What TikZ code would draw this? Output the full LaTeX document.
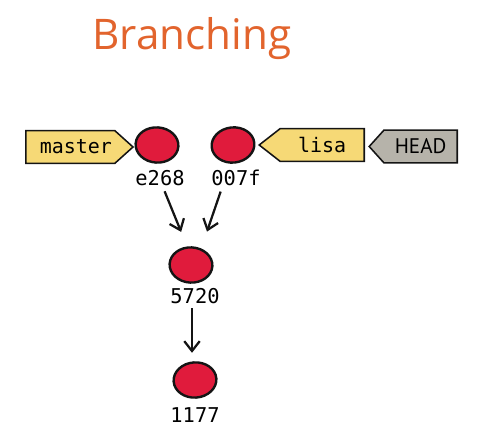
\documentclass[tikz,border=0pt]{standalone}
\usepackage{fontspec}
\setmainfont{Open Sans}
\newfontfamily\hashfont{DejaVu Sans Mono}
\newfontfamily\headfont{PT Sans}
\usetikzlibrary{arrows.meta,positioning,calc,shapes.geometric,shapes.symbols}
\definecolor{ink}{HTML}{141414}
\definecolor{title}{HTML}{E2642D}
\definecolor{cred}{HTML}{E01B3C}
\definecolor{tagyellow}{HTML}{F6D976}
\definecolor{taggray}{HTML}{B6B3AA}
\tikzset{
  commit/.style={ellipse, draw=ink, line width=1.7pt, fill=cred, minimum width=1.07cm, minimum height=0.88cm, inner sep=0pt},
  hash/.style={font=\hashfont\fontsize{14.5}{15}\selectfont, inner sep=1pt},
  tagbox/.style={signal, draw=ink, line width=1.1pt, fill=tagyellow, minimum height=0.82cm, inner sep=2pt, font=\hashfont\fontsize{14.2}{15}\selectfont},
  flow/.style={-{Straight Barb[length=7pt,width=11pt]}, line width=1.6pt, draw=ink},
}
\begin{document}
\begin{tikzpicture}[x=0.025cm, y=-0.025cm]
  \useasboundingbox (0,0) rectangle (480,446);
  % title
  \node[font=\fontsize{30}{31}\selectfont, text=title, anchor=base] (ttl) at (192,50) {Branching};
  % commits
  \node[commit, rotate=-4] (ce268) at (157,145) {};
  \node[commit, rotate=6] (c007f) at (233,145) {};
  \node[commit, rotate=-3] (c5720) at (191,265) {};
  \node[commit, rotate=4] (c1177) at (195,380) {};
  \node[hash] (le268) at (160,178) {e268};
  \node[hash] (l007f) at (236,178) {007f};
  \node[hash] (l5720) at (195,296) {5720};
  \node[hash] (l1177) at (195,415) {1177};
  % branch tags
  \node[tagbox, signal to=east, signal pointer angle=84, minimum width=2.625cm, anchor=west] (tmaster) at (25,147) {\hspace{8pt}master};
  \node[tagbox, signal to=west, signal pointer angle=76, minimum width=2.625cm, anchor=east] (tlisa) at (365,145) {lisa\hspace{6pt}};
  \node[tagbox, fill=taggray, signal to=west, signal pointer angle=96, minimum width=2.2cm, anchor=east, font=\headfont\fontsize{15}{16}\selectfont] (thead) at (458,146.5) {HEAD\hspace{5pt}};
  % parents
  \draw[flow, shorten <=3pt, shorten >=11pt] ($(le268.south)+(3,0)$) -- ($(c5720.north)+(-5,0)$);
  \draw[flow, shorten <=3pt, shorten >=11pt] ($(l007f.south)+(-14,0)$) -- ($(c5720.north)+(10,0)$);
  \draw[flow, shorten <=2pt, shorten >=6pt] ($(l5720.south)+(-3,0)$) -- ($(l5720.south |- c1177.north)+(-3,0)$);
\end{tikzpicture}
\end{document}
